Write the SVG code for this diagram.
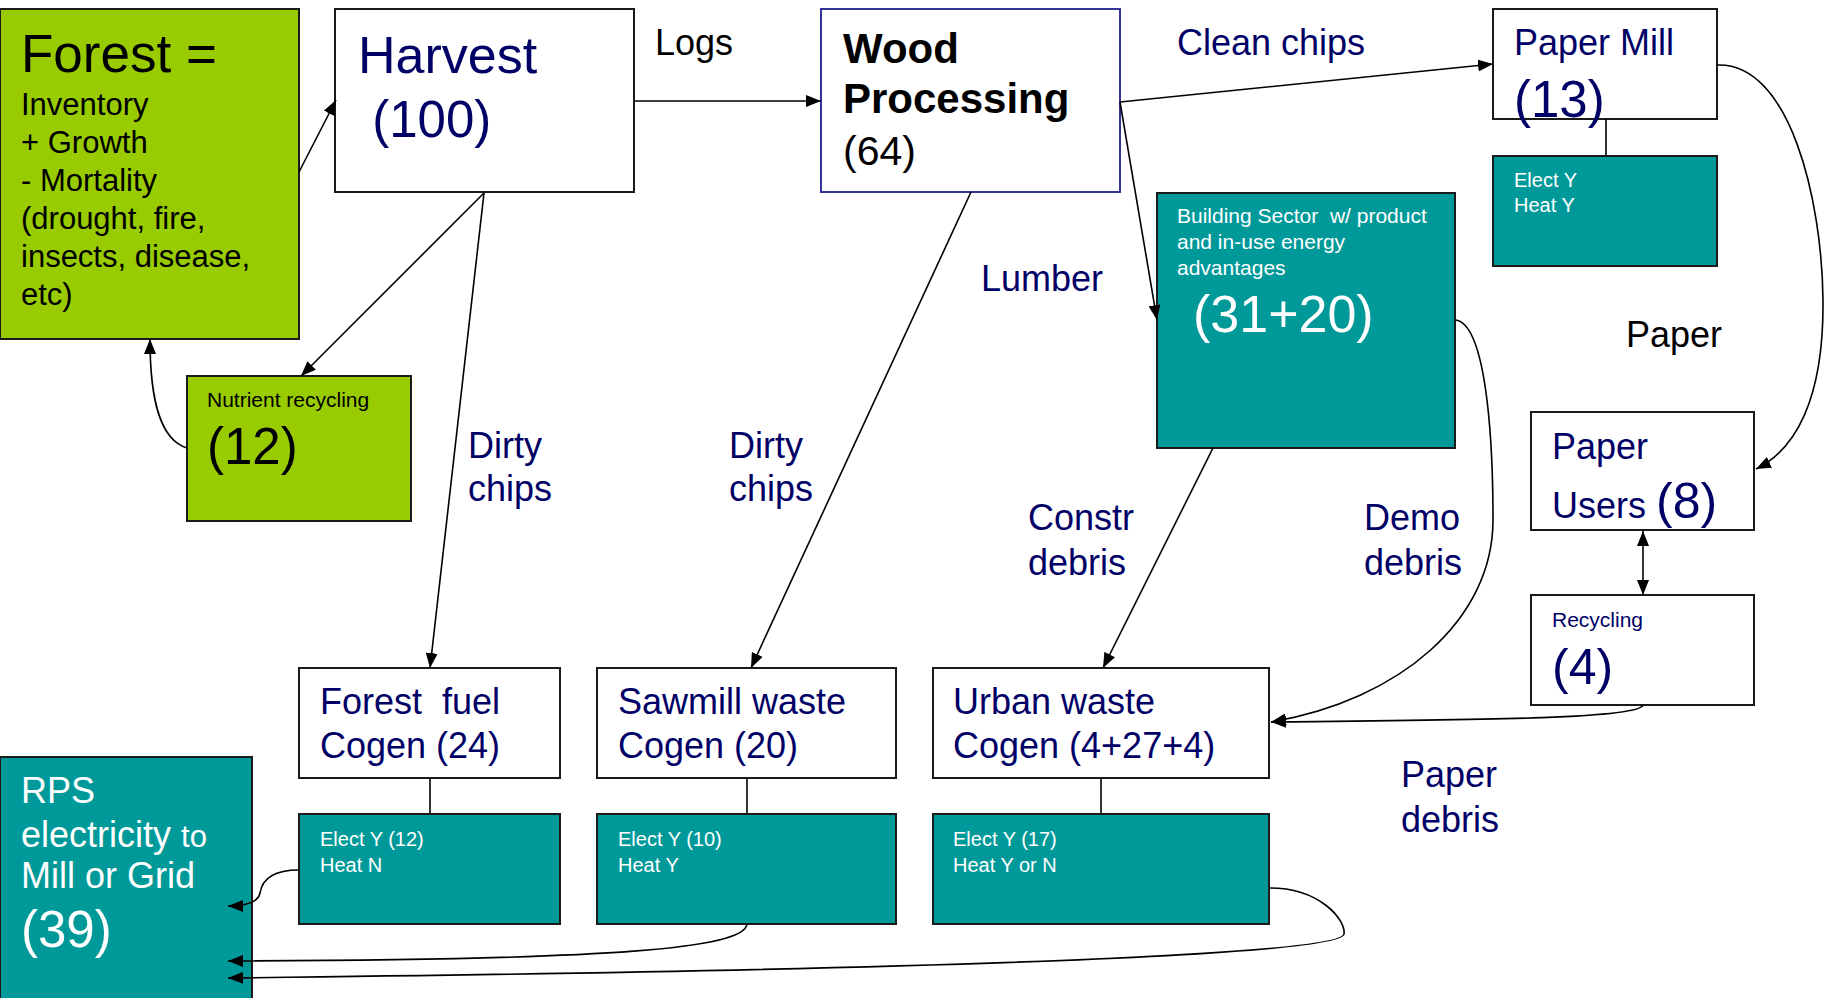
<svg xmlns="http://www.w3.org/2000/svg" width="1824" height="998" viewBox="0 0 1824 998">
<style>
text{font-family:"Liberation Sans",Arial,sans-serif;white-space:pre}
.box{stroke:#1a1a1a;stroke-width:2}
.white{fill:#ffffff}
.green{fill:#99cc00}
.teal{fill:#009999}
.navy{fill:#000066}
.blk{fill:#000000}
.wt{fill:#ffffff}
.lbl{font-size:36px}
.big{font-size:51px}
.sm{font-size:21px}
.conn{fill:none;stroke:#000;stroke-width:1.6}
</style>
<defs>
<marker id="ah" viewBox="0 0 15 12" refX="15" refY="6" markerWidth="15" markerHeight="12" markerUnits="userSpaceOnUse" orient="auto-start-reverse"><path d="M0,0 L15,6 L0,12 z" fill="#000"/></marker>
</defs>
<rect width="1824" height="998" fill="#fff"/>

<g id="labels">
<text class="lbl blk" x="655" y="55">Logs</text>
<text class="lbl navy" x="1177" y="55">Clean chips</text>
<text class="lbl blk" x="1626" y="347">Paper</text>
<text class="lbl navy" x="981" y="291">Lumber</text>
<text class="lbl navy" x="468" y="458">Dirty</text>
<text class="lbl navy" x="468" y="501">chips</text>
<text class="lbl navy" x="729" y="458">Dirty</text>
<text class="lbl navy" x="729" y="501">chips</text>
<text class="lbl navy" x="1028" y="530">Constr</text>
<text class="lbl navy" x="1028" y="575">debris</text>
<text class="lbl navy" x="1364" y="530">Demo</text>
<text class="lbl navy" x="1364" y="575">debris</text>
<text class="lbl navy" x="1401" y="787">Paper</text>
<text class="lbl navy" x="1401" y="832">debris</text>
</g>

<g id="forest">
<rect class="box green" x="0" y="9" width="299" height="330"/>
<text class="blk" x="21" y="72" font-size="53">Forest =</text>
<text class="blk" font-size="31"><tspan x="21" y="115">Inventory</tspan><tspan x="21" y="153">+ Growth</tspan><tspan x="21" y="191">- Mortality</tspan><tspan x="21" y="229">(drought, fire,</tspan><tspan x="21" y="267">insects, disease,</tspan><tspan x="21" y="305">etc)</tspan></text>
</g>

<g id="harvest">
<rect class="box white" x="335" y="9" width="299" height="183"/>
<text class="navy" x="358" y="73" font-size="52">Harvest</text>
<text class="navy" x="358" y="137" font-size="51"> (100)</text>
</g>

<g id="wood-processing">
<rect class="white" x="821" y="9" width="299" height="183" stroke="#333399" stroke-width="2"/>
<text class="blk" x="843" y="63" font-size="42" font-weight="bold">Wood</text>
<text class="blk" x="843" y="113" font-size="42" font-weight="bold">Processing</text>
<text class="blk" x="843" y="165" font-size="41">(64)</text>
</g>

<g id="paper-mill">
<rect class="box white" x="1493" y="9" width="224" height="110"/>
<text class="lbl navy" x="1514" y="55">Paper Mill</text>
<text class="big navy" x="1514" y="117">(13)</text>
</g>

<g id="paper-mill-energy">
<rect class="box teal" x="1493" y="156" width="224" height="110"/>
<text class="wt" x="1514" y="187" font-size="20">Elect Y</text>
<text class="wt" x="1514" y="212" font-size="20">Heat Y</text>
</g>

<g id="building-sector">
<rect class="box teal" x="1157" y="193" width="298" height="255"/>
<text class="wt sm" x="1177" y="223">Building Sector  w/ product</text>
<text class="wt sm" x="1177" y="249">and in-use energy</text>
<text class="wt sm" x="1177" y="275">advantages</text>
<text class="wt" x="1193" y="332" font-size="52">(31+20)</text>
</g>

<g id="nutrient-recycling">
<rect class="box green" x="187" y="376" width="224" height="145"/>
<text class="blk sm" x="207" y="407">Nutrient recycling</text>
<text class="blk" x="207" y="464" font-size="51">(12)</text>
</g>

<g id="paper-users">
<rect class="box white" x="1531" y="412" width="223" height="118"/>
<text class="lbl navy" x="1552" y="459">Paper</text>
<text class="navy" x="1552" y="518"><tspan font-size="36">Users </tspan><tspan font-size="50">(8)</tspan></text>
</g>

<g id="recycling">
<rect class="box white" x="1531" y="595" width="223" height="110"/>
<text class="navy sm" x="1552" y="627">Recycling</text>
<text class="navy" x="1552" y="684" font-size="50">(4)</text>
</g>

<g id="forest-fuel-cogen">
<rect class="box white" x="299" y="668" width="261" height="110"/>
<text class="lbl navy" x="320" y="714">Forest  fuel</text>
<text class="lbl navy" x="320" y="758">Cogen (24)</text>
</g>

<g id="sawmill-waste-cogen">
<rect class="box white" x="597" y="668" width="299" height="110"/>
<text class="lbl navy" x="618" y="714">Sawmill waste</text>
<text class="lbl navy" x="618" y="758">Cogen (20)</text>
</g>

<g id="urban-waste-cogen">
<rect class="box white" x="933" y="668" width="336" height="110"/>
<text class="lbl navy" x="953" y="714">Urban waste</text>
<text class="lbl navy" x="953" y="758">Cogen (4+27+4)</text>
</g>

<g id="forest-fuel-energy">
<rect class="box teal" x="299" y="814" width="261" height="110"/>
<text class="wt" x="320" y="846" font-size="20">Elect Y (12)</text>
<text class="wt" x="320" y="872" font-size="20">Heat N</text>
</g>

<g id="sawmill-energy">
<rect class="box teal" x="597" y="814" width="299" height="110"/>
<text class="wt" x="618" y="846" font-size="20">Elect Y (10)</text>
<text class="wt" x="618" y="872" font-size="20">Heat Y</text>
</g>

<g id="urban-energy">
<rect class="box teal" x="933" y="814" width="336" height="110"/>
<text class="wt" x="953" y="846" font-size="20">Elect Y (17)</text>
<text class="wt" x="953" y="872" font-size="20">Heat Y or N</text>
</g>

<g id="rps">
<rect class="box teal" x="0" y="757" width="252" height="245"/>
<text class="wt lbl" x="21" y="803">RPS</text>
<text class="wt" x="21" y="847"><tspan font-size="36">electricity </tspan><tspan font-size="31">to</tspan></text>
<text class="wt lbl" x="21" y="888">Mill or Grid</text>
<text class="wt big" x="21" y="947">(39)</text>
</g>

<g id="connectors">
<path class="conn" d="M299,172 L336,100" marker-end="url(#ah)"/>
<path class="conn" d="M634,101 L821,101" marker-end="url(#ah)"/>
<path class="conn" d="M484,193 L301,376" marker-end="url(#ah)"/>
<path class="conn" d="M484,193 L430,668" marker-end="url(#ah)"/>
<path class="conn" d="M187,448 C160,440 150,400 150,339" marker-end="url(#ah)"/>
<path class="conn" d="M1120,102 L1493,64" marker-end="url(#ah)"/>
<path class="conn" d="M1120,102 L1157,320" marker-end="url(#ah)"/>
<path class="conn" d="M971,192 L751,668" marker-end="url(#ah)"/>
<path class="conn" d="M1606,119 L1606,156"/>
<path class="conn" d="M1717,65 C1790,62 1822,200 1823,300 C1824,400 1795,450 1756,469" marker-end="url(#ah)"/>
<path class="conn" d="M1643,531 L1643,595" marker-start="url(#ah)" marker-end="url(#ah)"/>
<path class="conn" d="M1643,705 C1640,718 1500,720 1271,722" marker-end="url(#ah)"/>
<path class="conn" d="M1213,448 L1103,668" marker-end="url(#ah)"/>
<path class="conn" d="M1456,320 C1485,325 1493,430 1493,520 C1493,620 1400,700 1271,722" marker-end="url(#ah)"/>
<path class="conn" d="M430,778 L430,814"/>
<path class="conn" d="M747,778 L747,814"/>
<path class="conn" d="M1101,778 L1101,814"/>
<path class="conn" d="M299,870 C272,870 262,880 260,893 C258,903 245,906 228,906" marker-end="url(#ah)"/>
<path class="conn" d="M747,924 C745,948 620,960 228,961" marker-end="url(#ah)"/>
<path class="conn" d="M1270,888 C1320,888 1346,920 1344,934 C1342,950 1100,968 228,978" marker-end="url(#ah)"/>
</g>
</svg>
